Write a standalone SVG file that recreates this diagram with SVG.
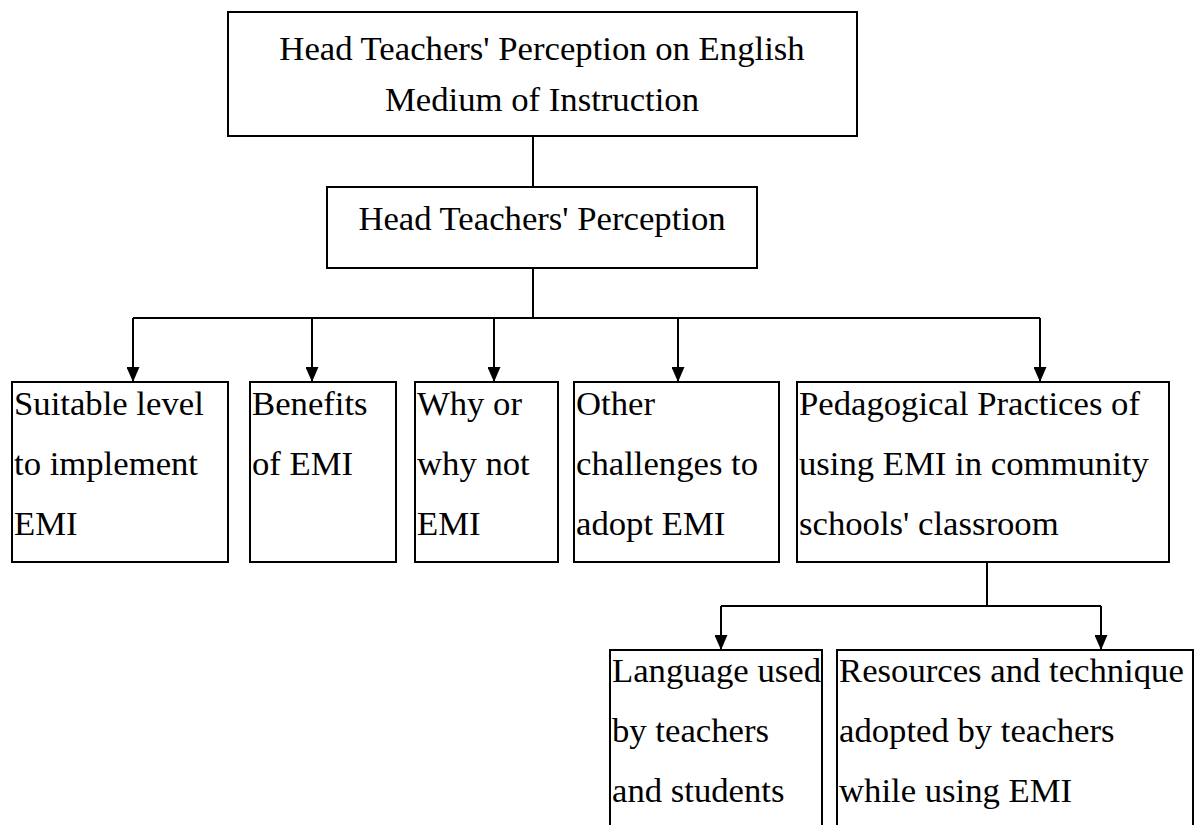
<svg xmlns="http://www.w3.org/2000/svg" width="1199" height="825" viewBox="0 0 1199 825">
<style>
.box{fill:#fff;stroke:#000;stroke-width:2}
.t{font-family:"Liberation Serif","Times New Roman",serif;font-size:34.7px;fill:#000}
.c{text-anchor:middle}
.ln{fill:none;stroke:#000;stroke-width:2}
</style>
<defs>
<marker id="ah" viewBox="0 0 15 13" refX="15" refY="6.5" markerWidth="15" markerHeight="13" markerUnits="userSpaceOnUse" orient="auto">
<path d="M0,0 L15,6.5 L0,13 z" fill="#000"/>
</marker>
</defs>
<rect width="1199" height="825" fill="#fff"/>
<g id="connectors">
<path class="ln" d="M533,136 V187"/>
<path class="ln" d="M533,268 V318"/>
<path class="ln" d="M133,318 H1040"/>
<path class="ln" d="M133,318 V382" marker-end="url(#ah)"/>
<path class="ln" d="M312,318 V382" marker-end="url(#ah)"/>
<path class="ln" d="M494,318 V382" marker-end="url(#ah)"/>
<path class="ln" d="M678,318 V382" marker-end="url(#ah)"/>
<path class="ln" d="M1040,318 V382" marker-end="url(#ah)"/>
<path class="ln" d="M987,562 V606"/>
<path class="ln" d="M721,606 H1101"/>
<path class="ln" d="M721,606 V650" marker-end="url(#ah)"/>
<path class="ln" d="M1101,606 V650" marker-end="url(#ah)"/>
</g>
<g id="root">
<rect class="box" x="228" y="12" width="629" height="124"/>
<text class="t c" x="542" y="60">Head Teachers' Perception on English</text>
<text class="t c" x="542" y="111">Medium of Instruction</text>
</g>
<g id="perception">
<rect class="box" x="327" y="187" width="430" height="81"/>
<text class="t c" x="542" y="230">Head Teachers' Perception</text>
</g>
<g id="suitable">
<rect class="box" x="12" y="382" width="216" height="180"/>
<text class="t" x="14" y="415">Suitable level</text>
<text class="t" x="14" y="475">to implement</text>
<text class="t" x="14" y="535">EMI</text>
</g>
<g id="benefits">
<rect class="box" x="250" y="382" width="146" height="180"/>
<text class="t" x="252" y="415">Benefits</text>
<text class="t" x="252" y="475">of EMI</text>
</g>
<g id="why">
<rect class="box" x="415" y="382" width="143" height="180"/>
<text class="t" x="417" y="415">Why or</text>
<text class="t" x="417" y="475">why not</text>
<text class="t" x="417" y="535">EMI</text>
</g>
<g id="challenges">
<rect class="box" x="574" y="382" width="205" height="180"/>
<text class="t" x="576" y="415">Other</text>
<text class="t" x="576" y="475">challenges to</text>
<text class="t" x="576" y="535">adopt EMI</text>
</g>
<g id="pedagogical">
<rect class="box" x="797" y="382" width="372" height="180"/>
<text class="t" x="799" y="415">Pedagogical Practices of</text>
<text class="t" x="799" y="475">using EMI in community</text>
<text class="t" x="799" y="535">schools' classroom</text>
</g>
<g id="language">
<rect class="box" x="610" y="650" width="212" height="190"/>
<text class="t" x="612" y="682">Language used</text>
<text class="t" x="612" y="742">by teachers</text>
<text class="t" x="612" y="802">and students</text>
</g>
<g id="resources">
<rect class="box" x="837" y="650" width="356" height="190"/>
<text class="t" x="839" y="682">Resources and technique</text>
<text class="t" x="839" y="742">adopted by teachers</text>
<text class="t" x="839" y="802">while using EMI</text>
</g>
</svg>
